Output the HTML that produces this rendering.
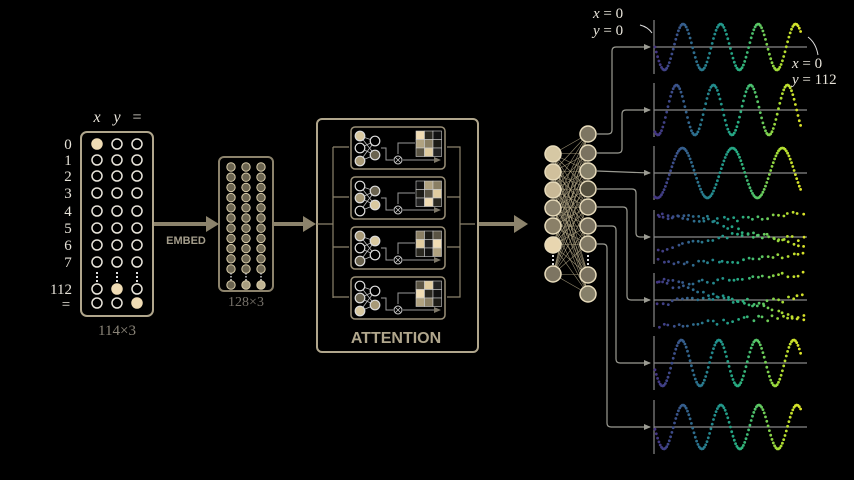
<!DOCTYPE html>
<html><head><meta charset="utf-8"><style>
html,body{margin:0;padding:0;background:#000;width:854px;height:480px;overflow:hidden}
svg{display:block}
.s{font-family:"Liberation Serif",serif;fill:#e8e4da}
</style></head><body>
<svg id="g" width="854" height="480" viewBox="0 0 854 480" xmlns="http://www.w3.org/2000/svg">
<defs>
<marker id="ah" markerWidth="8" markerHeight="8" refX="6" refY="3" orient="auto" markerUnits="userSpaceOnUse"><path d="M0,0 L7,3 L0,6 Z" fill="#9b9b92"/></marker>
<marker id="ah2" markerWidth="8" markerHeight="8" refX="6" refY="3" orient="auto" markerUnits="userSpaceOnUse"><path d="M0,0 L7,3 L0,6 Z" fill="#7d7768"/></marker>
</defs>
<rect width="854" height="480" fill="#000"/>
<text class="s" x="97" y="122" font-size="16" font-style="italic" text-anchor="middle">x</text>
<text class="s" x="117" y="122" font-size="16" font-style="italic" text-anchor="middle">y</text>
<text class="s" x="137" y="122" font-size="16" text-anchor="middle">=</text>
<rect x="81" y="132" width="72" height="184" rx="6" fill="none" stroke="#b0a68c" stroke-width="2"/>
<text x="117" y="335" font-family="Liberation Serif,serif" font-size="15" text-anchor="middle" fill="#8a8478">114×3</text>
<line x1="154" y1="224" x2="208" y2="224" stroke="#8c836c" stroke-width="4"/>
<path d="M206,216 L219,224 L206,232 Z" fill="#8c836c"/>
<text x="186" y="244" font-family="Liberation Sans,sans-serif" font-weight="bold" font-size="11" fill="#a39c8a" text-anchor="middle">EMBED</text>
<rect x="219" y="157" width="54" height="134" rx="5" fill="none" stroke="#8c836c" stroke-width="2"/>
<text x="246" y="306" font-family="Liberation Serif,serif" font-size="14" fill="#77726a" text-anchor="middle">128×3</text>
<line x1="274" y1="224" x2="305" y2="224" stroke="#8c836c" stroke-width="4"/>
<path d="M303,216 L316,224 L303,232 Z" fill="#8c836c"/>
<rect x="317" y="119" width="161" height="233" rx="5" fill="none" stroke="#b0a68c" stroke-width="2"/>
<text x="396" y="343" font-family="Liberation Sans,sans-serif" font-weight="bold" font-size="16" fill="#b0a68c" text-anchor="middle">ATTENTION</text>
<line x1="479" y1="224" x2="516" y2="224" stroke="#8c836c" stroke-width="4"/>
<path d="M514,215 L528,224 L514,233 Z" fill="#8c836c"/>
<g id="dyn"></g>
<text class="s" x="593" y="18" font-size="15"><tspan font-style="italic">x</tspan> = 0</text>
<text class="s" x="593" y="35" font-size="15"><tspan font-style="italic">y</tspan> = 0</text>
<path d="M640,25 Q648,27 652,33" fill="none" stroke="#ddd" stroke-width="1"/>
<text class="s" x="792" y="68" font-size="15"><tspan font-style="italic">x</tspan> = 0</text>
<text class="s" x="792" y="84" font-size="15"><tspan font-style="italic">y</tspan> = 112</text>
<path d="M818,55 Q816,43 808,37" fill="none" stroke="#ddd" stroke-width="1"/>
</svg>
<script>
const NS="http://www.w3.org/2000/svg",D=document.getElementById('dyn');
function el(t,a,p){const e=document.createElementNS(NS,t);for(const k in a)e.setAttribute(k,a[k]);(p||D).appendChild(e);return e;}
function tx(x,y,s,sz){const e=el('text',{x:x,y:y,'font-size':sz||15,'font-family':'Liberation Serif,serif',fill:'#e8e4da','text-anchor':'middle'});e.textContent=s;}
const rows=[144,160,176,193,211,228,245,262],labs=['0','1','2','3','4','5','6','7'];
rows.forEach((y,i)=>{tx(68,y+5,labs[i]);[97,117,137].forEach((x,j)=>{const f=(i==0&&j==0);el('circle',{cx:x,cy:y,r:5,fill:f?'#f0dcb4':'none',stroke:f?'#f0dcb4':'#e8e4da','stroke-width':1.5});});});
[97,117,137].forEach(x=>el('line',{x1:x,y1:272,x2:x,y2:282,stroke:'#ddd','stroke-width':2,'stroke-dasharray':'2,2'}));
tx(61,294,'112');tx(66,309,'=');
[[289,1],[303,2]].forEach(([y,k])=>[97,117,137].forEach((x,j)=>{const f=j==k;el('circle',{cx:x,cy:y,r:5,fill:f?'#f0dcb4':'none',stroke:f?'#f0dcb4':'#e8e4da','stroke-width':1.5});}));
const shades=['#6b6450','#8f866c','#a89e80','#4a4536','#c0b392','#7a7260'];
let n=0;
for(let i=0;i<11;i++){const y=167+i*10.2;[231,246,261].forEach((x,j)=>{el('circle',{cx:x,cy:y,r:4.2,fill:shades[(i*3+j*5+n++)%6],stroke:'#d8ccaa','stroke-width':1});});}
[231,246,261].forEach(x=>el('line',{x1:x,y1:273,x2:x,y2:281,stroke:'#ccc','stroke-width':1.5,'stroke-dasharray':'1.5,1.5'}));
[231,246,261].forEach((x,j)=>el('circle',{cx:x,cy:285,r:4.2,fill:shades[j*2],stroke:'#d8ccaa','stroke-width':1}));
const ac='#8c836c';
el('path',{d:'M317,224 L333,224 M333,147 L333,298 M333,147 L349,147 M333,197 L349,197 M333,247 L349,247 M333,297 L349,297',stroke:ac,fill:'none','stroke-width':1.2});
el('path',{d:'M447,147 L460,147 L460,297 L447,297 M447,197 L460,197 M447,247 L460,247 M460,224 L475,224',stroke:ac,fill:'none','stroke-width':1.2});
[127,177,227,277].forEach((y0,h)=>{
 el('rect',{x:351,y:y0,width:94,height:42,rx:4,fill:'none',stroke:'#9a9078','stroke-width':1.5});
 const nx=[[360,y0+9],[360,y0+21],[360,y0+34],[375,y0+14],[375,y0+28]];
 [[0,3],[0,4],[1,3],[1,4],[2,3],[2,4]].forEach(([a,b])=>el('line',{x1:nx[a][0],y1:nx[a][1],x2:nx[b][0],y2:nx[b][1],stroke:'#bbb','stroke-width':0.8}));
 const fl=['#d8c8a0','#000','#a89a78','#000','#6b6450'];
 nx.forEach((p,i)=>el('circle',{cx:p[0],cy:p[1],r:4.8,fill:fl[(i+h)%5],stroke:'#ddd','stroke-width':1.2}));
 el('path',{d:`M381,${y0+21} L386,${y0+21} L386,${y0+33} L393,${y0+33}`,fill:'none',stroke:'#999','stroke-width':1});
 el('circle',{cx:398,cy:y0+33,r:4,fill:'none',stroke:'#ccc','stroke-width':1});
 el('path',{d:`M395.5,${y0+30.5}l5,5m0,-5l-5,5`,stroke:'#ccc','stroke-width':0.8});
 el('path',{d:`M415,${y0+16} L398,${y0+16} L398,${y0+27}`,fill:'none',stroke:'#999','stroke-width':1});
 el('path',{d:`M403,${y0+33} L440,${y0+33}`,stroke:'#999','stroke-width':1,'marker-end':'url(#ah2)'});
 const cs=['#f0dcb4','#2a2820','#111','#b0a280','#8a7f64','#1c1b16','#5a5444','#e0cca0','#222'];
 for(let r=0;r<3;r++)for(let c=0;c<3;c++)el('rect',{x:416+c*8.5,y:y0+4+r*8.5,width:8.5,height:8.5,fill:cs[(r*3+c+h*2)%9],stroke:'#ccc','stroke-width':0.6});
});
const L=[154,172,190,208,226,245,274],R=[134,153,171,189,207,226,244,275,294];
const lf=['#d6c8a4','#d0c09c','#c8b896','#8f8670','#8a8068','#e8d6b0','#7d7562'];
const rf=['#7d7562','#7a7260','#86806a','#55503f','#7e7662','#7a7260','#807864','#7a7260','#86806a'];
L.forEach(a=>R.forEach(b=>el('line',{x1:553,y1:a,x2:588,y2:b,stroke:'#b8ac8a','stroke-width':0.6,opacity:0.8})));
L.forEach((y,i)=>el('circle',{cx:553,cy:y,r:8,fill:lf[i],stroke:'#e8dcbc','stroke-width':1.5}));
R.forEach((y,i)=>el('circle',{cx:588,cy:y,r:8,fill:rf[i],stroke:'#e8dcbc','stroke-width':1.5}));
[553,588].forEach(x=>el('line',{x1:x,y1:255,x2:x,y2:265,stroke:'#ddd','stroke-width':2,'stroke-dasharray':'2,2'}));
const PY=[47,110,173,237,300,363,427];
const con=[[134,612,47],[153,622,110],[171,null,173],[189,636,237],[207,627,300],[226,616,363],[244,607,427]];
con.forEach(([y,x,t])=>{let d;if(x===null)d=`M597,${y} L650,${t}`;else{const s=t<y?-1:1;d=`M597,${y} L${x-4},${y} Q${x},${y} ${x},${y+4*s} L${x},${t-4*s} Q${x},${t} ${x+4},${t} L650,${t}`;}
 el('path',{d:d,fill:'none',stroke:'#9b9b92','stroke-width':1.2,'marker-end':'url(#ah)'});});
function vir(t){const c=[[68,51,130],[59,82,139],[44,113,142],[33,145,140],[39,173,129],[92,200,99],[170,220,50],[220,227,40]];const f=t*(c.length-1),i=Math.min(Math.floor(f),c.length-2),u=f-i;return `rgb(${c[i].map((v,k)=>Math.round(v+(c[i+1][k]-v)*u)).join(',')})`;}
let seed=7;function rnd(){seed=(seed*9301+49297)%233280;return seed/233280;}
const specs=[{p:37.5,ph:Math.PI,A:23},{p:37,ph:-Math.PI/2-0.5,A:25},{p:50,ph:-Math.PI/2-0.3,A:25},null,null,{p:37.5,ph:Math.PI+0.3,A:23},{p:38,ph:Math.PI+0.1,A:22}];
PY.forEach((cy,k)=>{
 el('line',{x1:654,y1:cy-27,x2:654,y2:cy+27,stroke:'#888','stroke-width':1.2});
 el('line',{x1:654,y1:cy,x2:807,y2:cy,stroke:'#888','stroke-width':1.2});
 const s=specs[k];
 if(s){for(let i=0;i<113;i++){const x=655+i*1.3,t=i/112;const y=cy-s.A*Math.sin(2*Math.PI*(x-655)/s.p+s.ph);el('circle',{cx:x.toFixed(1),cy:y.toFixed(1),r:1.4,fill:vir(t)});}}
 else{for(let b=0;b<4;b++)for(let i=0;i<30;i++){const x=657+i*5+rnd()*2.5,t=(x-655)/150;const base=[-22,-9,9,22][b];const w=(b%2?1:-1)*11*Math.sin((x-655)/40+b*1.3+k);const y=cy+base+(b==1||b==2?w:w*0.35)+(rnd()-0.5)*5;el('circle',{cx:x.toFixed(1),cy:y.toFixed(1),r:1.4,fill:vir(t)});}}
});
</script>
</body></html>
